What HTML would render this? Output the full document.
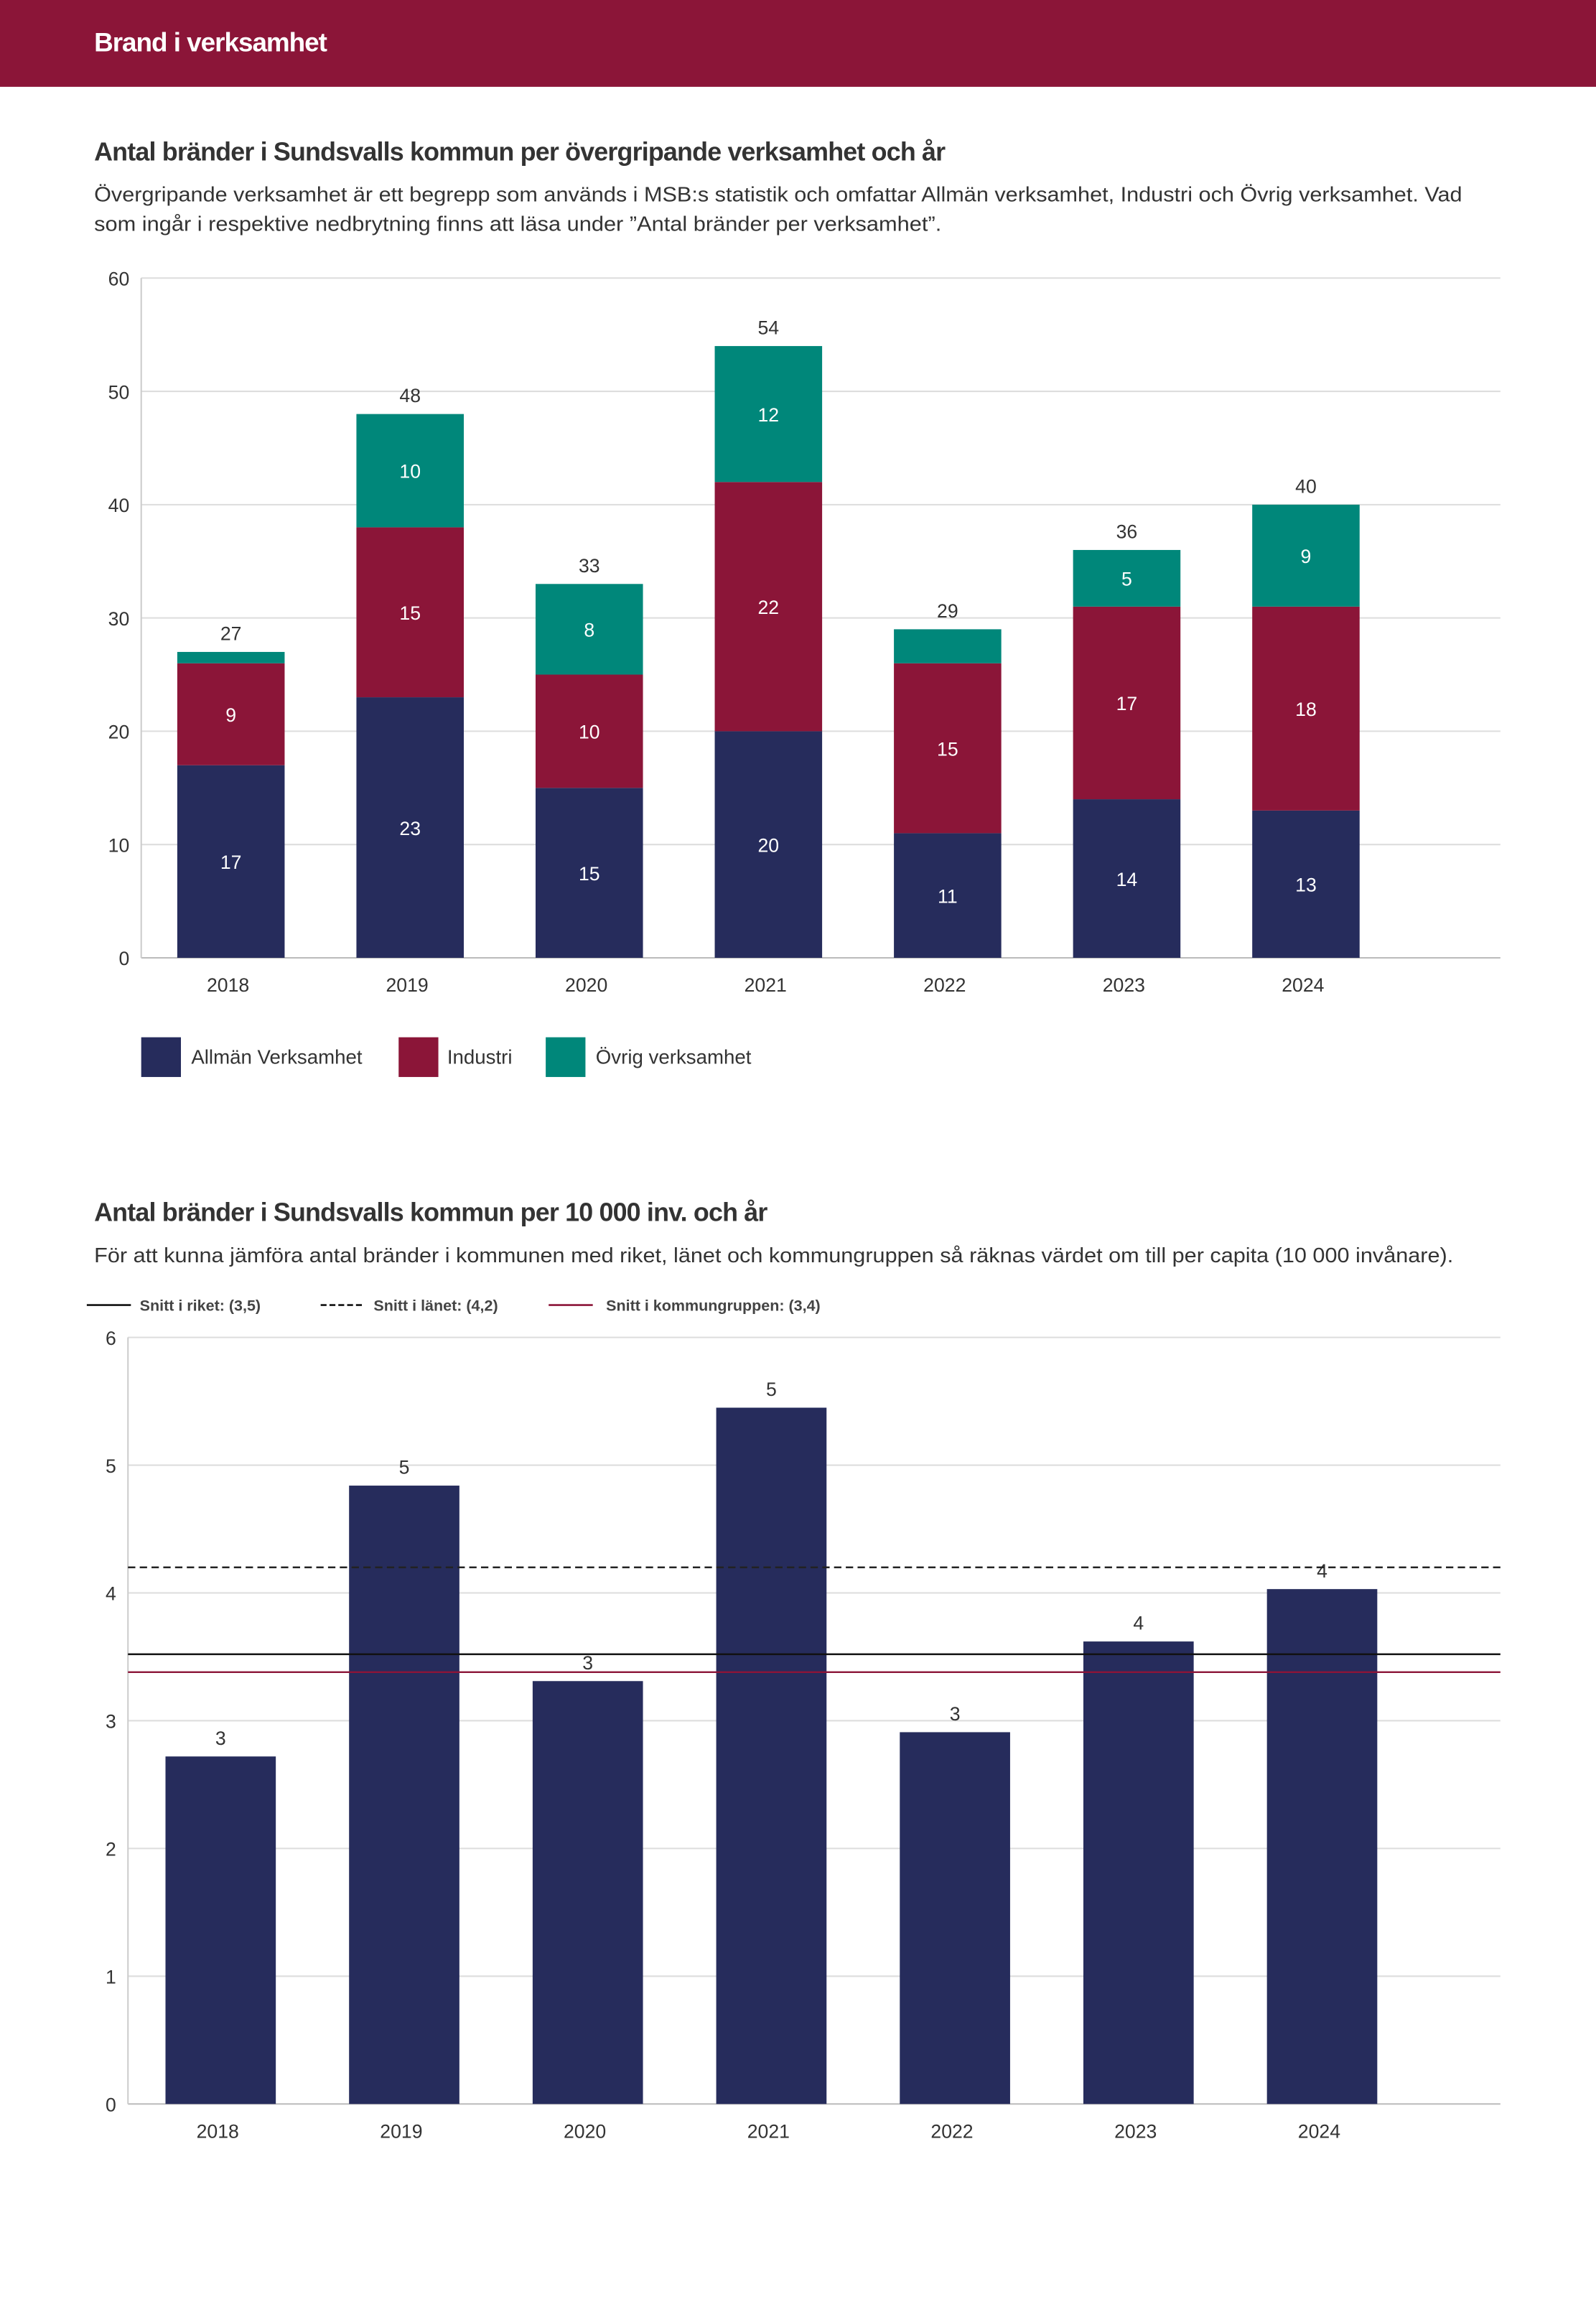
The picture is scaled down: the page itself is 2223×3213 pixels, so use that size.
<!DOCTYPE html>
<html><head><meta charset="utf-8"><style>
html,body{margin:0;padding:0;background:#fff;width:2223px;height:3213px;overflow:hidden}
svg{display:block}
text{font-family:"Liberation Sans",sans-serif}
</style></head><body>
<svg id="page" width="2223" height="3213" viewBox="0 0 1085 1568" preserveAspectRatio="none" xmlns="http://www.w3.org/2000/svg">
<rect x="0" y="0" width="1085" height="59" fill="#8B1538"/>
<text x="64" y="35" font-size="18" font-weight="bold" fill="#fff" letter-spacing="-0.5">Brand i verksamhet</text>
<text x="64" y="109" font-size="17.5" font-weight="bold" fill="#333" letter-spacing="-0.4">Antal bränder i Sundsvalls kommun per övergripande verksamhet och år</text>
<text x="64" y="137" font-size="14" fill="#333" textLength="930" lengthAdjust="spacingAndGlyphs">Övergripande verksamhet är ett begrepp som används i MSB:s statistik och omfattar Allmän verksamhet, Industri och Övrig verksamhet. Vad</text>
<text x="64" y="157" font-size="14" fill="#333" textLength="576" lengthAdjust="spacingAndGlyphs">som ingår i respektive nedbrytning finns att läsa under ”Antal bränder per verksamhet”.</text>
<g id="c1"></g>
<g id="c1legend">
<rect x="96" y="705" width="27" height="27" fill="#262C5C"/>
<text x="130" y="723" font-size="13.5" fill="#333">Allmän Verksamhet</text>
<rect x="271" y="705" width="27" height="27" fill="#8B1538"/>
<text x="304" y="723" font-size="13.5" fill="#333">Industri</text>
<rect x="371" y="705" width="27" height="27" fill="#00877A"/>
<text x="405" y="723" font-size="13.5" fill="#333">Övrig verksamhet</text>
</g>
<text x="64" y="830" font-size="17.5" font-weight="bold" fill="#333" letter-spacing="-0.4">Antal bränder i Sundsvalls kommun per 10 000 inv. och år</text>
<text x="64" y="858" font-size="14" fill="#333" textLength="924" lengthAdjust="spacingAndGlyphs">För att kunna jämföra antal bränder i kommunen med riket, länet och kommungruppen så räknas värdet om till per capita (10 000 invånare).</text>
<g>
<line x1="59" y1="887" x2="89" y2="887" stroke="#111" stroke-width="1.3"/>
<text x="95" y="891" font-size="10.5" font-weight="bold" fill="#444">Snitt i riket: (3,5)</text>
<line x1="218" y1="887" x2="248" y2="887" stroke="#111" stroke-width="1.3" stroke-dasharray="4,2"/>
<text x="254" y="891" font-size="10.5" font-weight="bold" fill="#444">Snitt i länet: (4,2)</text>
<line x1="373" y1="887" x2="403" y2="887" stroke="#8B1538" stroke-width="1.3"/>
<text x="412" y="891" font-size="10.5" font-weight="bold" fill="#444">Snitt i kommungruppen: (3,4)</text>
</g>
<g id="c2"></g>
</svg>
<script>
const years = ["2018","2019","2020","2021","2022","2023","2024"];
const allman = [17,23,15,20,11,14,13];
const industri = [9,15,10,22,15,17,18];
const ovrig = [1,10,8,12,3,5,9];
const ticks1 = [0,10,20,30,40,50,60];
const perCapita = [2.72,4.84,3.31,5.45,2.91,3.62,4.03];
const ticks2 = [0,1,2,3,4,5,6];
const avgRiket = 3.52;
const avgLanet = 4.2;
const avgGrupp = 3.38;

const NS="http://www.w3.org/2000/svg";
function mk(parent,tag,attrs,txt){const e=document.createElementNS(NS,tag);for(const k in attrs)e.setAttribute(k,attrs[k]);if(txt!==undefined)e.textContent=txt;parent.appendChild(e);return e;}

// chart 1
(function(){
const g=document.getElementById('c1');
const x0=96,x1=1020,yB=651,yT=189,max=60;
const y=v=>yB-(v/max)*(yB-yT);
const step=121.8,bw=73;
const cx=i=>157+i*step;
ticks1.forEach(t=>{
 const l=mk(g,'line',{x1:x0,x2:x1,y1:y(t),y2:y(t),stroke:t===0?'#bbb':'#ddd','stroke-width':1});
 
 
 const tx=mk(g,'text',{x:88,y:y(t)+5,'font-size':13,fill:'#333','text-anchor':'end'},t);
 
 
});
const ax=mk(g,'line',{x1:x0,x2:x0,y1:yT,y2:yB,stroke:'#ccc','stroke-width':1});


const series=[[allman,'#262C5C','allman'],[industri,'#8B1538','industri'],[ovrig,'#00877A','ovrig']];
years.forEach((yr,i)=>{
 let base=0;
 series.forEach(([arr,col,nm])=>{
  const v=arr[i];
  const r=mk(g,'rect',{x:cx(i)-bw/2,y:y(base+v),width:bw,height:y(base)-y(base+v),fill:col});
  
  
  if(v>=4){
   const t=mk(g,'text',{x:cx(i),y:(y(base)+y(base+v))/2+5,'font-size':13,fill:'#fff','text-anchor':'middle'},v);
   
   
  }
  base+=v;
 });
 const tot=mk(g,'text',{x:cx(i),y:y(base)-8,'font-size':13,fill:'#333','text-anchor':'middle'},base);
 
 
 const xl=mk(g,'text',{x:cx(i)-2,y:674,'font-size':13,fill:'#333','text-anchor':'middle'},yr);
 
 
});
})();

// chart 2
(function(){
const g=document.getElementById('c2');
const x0=87,x1=1020,yB=1430,yT=909,max=6;
const y=v=>yB-(v/max)*(yB-yT);
const step=124.8,bw=75;
const cx=i=>150+i*step;
ticks2.forEach(t=>{
 const l=mk(g,'line',{x1:x0,x2:x1,y1:y(t),y2:y(t),stroke:t===0?'#bbb':'#ddd','stroke-width':1});
 
 
 const tx=mk(g,'text',{x:79,y:y(t)+5,'font-size':13,fill:'#333','text-anchor':'end'},t);
 
 
});
const ax=mk(g,'line',{x1:x0,x2:x0,y1:yT,y2:yB,stroke:'#ccc','stroke-width':1});


years.forEach((yr,i)=>{
 const v=perCapita[i];
 const r=mk(g,'rect',{x:cx(i)-bw/2,y:y(v),width:bw,height:yB-y(v),fill:'#262C5C'});
 
 
 const t=mk(g,'text',{x:cx(i),y:y(v)-8,'font-size':13,fill:'#333','text-anchor':'middle'},Math.round(v));
 
 
 const xl=mk(g,'text',{x:cx(i)-2,y:1453,'font-size':13,fill:'#333','text-anchor':'middle'},yr);
 
 
});
const l1=mk(g,'line',{x1:x0,x2:x1,y1:y(avgLanet),y2:y(avgLanet),stroke:'#222','stroke-width':1.2,'stroke-dasharray':'5,3'});


const l2=mk(g,'line',{x1:x0,x2:x1,y1:y(avgRiket),y2:y(avgRiket),stroke:'#111','stroke-width':1.2});


const l3=mk(g,'line',{x1:x0,x2:x1,y1:y(avgGrupp),y2:y(avgGrupp),stroke:'#8B1538','stroke-width':1.2});


})();
</script>
</body></html>
